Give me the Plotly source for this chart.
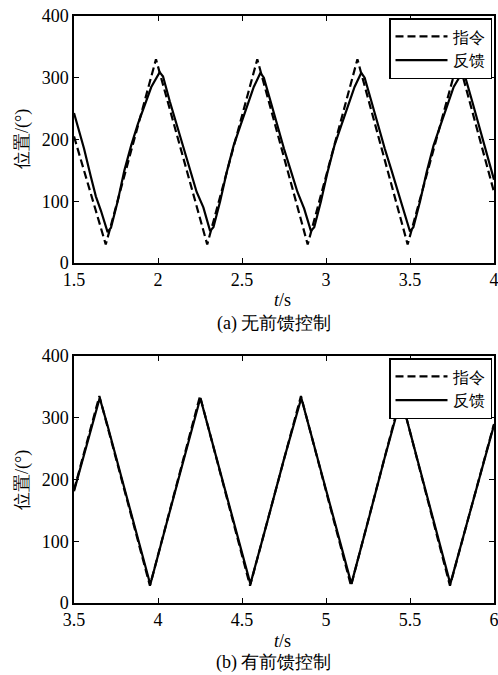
import plotly.graph_objects as go

# ---- data (a) without feedforward ----
cmd_a_t = [1.5, 1.689, 1.988, 2.293, 2.591, 2.891, 3.187, 3.486, 3.787, 4.0]
cmd_a_y = [205, 30, 330, 30, 330, 30, 330, 30, 330, 115]

fb_a_t = [1.50, 1.53, 1.56, 1.60, 1.63, 1.66, 1.70, 1.72, 1.76, 1.80, 1.84, 1.88, 1.92, 1.96, 2.01,
          2.03, 2.07, 2.11, 2.15, 2.19, 2.23, 2.27, 2.31, 2.33, 2.37, 2.41, 2.45, 2.49, 2.53, 2.57, 2.61,
          2.63, 2.67, 2.71, 2.75, 2.79, 2.83, 2.87, 2.91, 2.93, 2.97, 3.01, 3.05, 3.09, 3.13, 3.17, 3.21,
          3.23, 3.27, 3.31, 3.35, 3.39, 3.43, 3.46, 3.50, 3.52, 3.56, 3.60, 3.64, 3.68, 3.72, 3.76, 3.81,
          3.83, 3.87, 3.91, 3.95, 4.00]
fb_a_y = [243, 215, 185, 140, 108, 85, 50, 57, 100, 150, 190, 225, 255, 285, 309,
          302, 262, 225, 185, 152, 115, 90, 52, 58, 100, 148, 190, 222, 255, 285, 308,
          300, 262, 222, 185, 150, 115, 88, 52, 58, 100, 148, 190, 222, 255, 285, 308,
          300, 262, 222, 185, 150, 115, 90, 51, 58, 100, 148, 190, 222, 255, 285, 308,
          300, 262, 222, 185, 135]

# ---- data (b) with feedforward ----
cmd_b_t = [3.5, 3.651, 3.952, 4.25, 4.548, 4.851, 5.149, 5.445, 5.738, 6.0]
cmd_b_y = [183, 335, 28, 335, 28, 335, 28, 335, 28, 290]

fb_b_t = [3.5, 3.58, 3.653, 3.70, 3.80, 3.954, 4.05, 4.15, 4.252, 4.35, 4.45, 4.550, 4.65, 4.75,
          4.853, 4.95, 5.05, 5.151, 5.25, 5.35, 5.447, 5.55, 5.65, 5.740, 5.85, 6.0]
fb_b_y = [181, 262, 332, 287, 184, 30, 128, 230, 332, 233, 130, 31, 131, 233,
          332, 233, 132, 31, 132, 236, 332, 226, 122, 31, 140, 288]

x_ticks_a = [1.5, 2, 2.5, 3, 3.5, 4]
x_ticks_b = [3.5, 4, 4.5, 5, 5.5, 6]
y_ticks = [0, 100, 200, 300, 400]

W, H = 498, 675
FONT = "Liberation Serif"
DASH = "8px,4px"


def px(x):
    return x / W


def py(y):
    return 1 - y / H


fig = go.Figure()
fig.add_trace(go.Scatter(x=cmd_a_t, y=cmd_a_y, mode="lines", name="指令",
                         line=dict(color="black", width=2.2, dash=DASH),
                         xaxis="x", yaxis="y", legend="legend"))
fig.add_trace(go.Scatter(x=fb_a_t, y=fb_a_y, mode="lines", name="反馈",
                         line=dict(color="black", width=2.2),
                         xaxis="x", yaxis="y", legend="legend"))
fig.add_trace(go.Scatter(x=cmd_b_t, y=cmd_b_y, mode="lines", name="指令",
                         line=dict(color="black", width=2.2, dash=DASH),
                         xaxis="x2", yaxis="y2", legend="legend2"))
fig.add_trace(go.Scatter(x=fb_b_t, y=fb_b_y, mode="lines", name="反馈",
                         line=dict(color="black", width=2.2),
                         xaxis="x2", yaxis="y2", legend="legend2"))

xdom = [px(74), px(494)]
ydom_a = [py(263), py(16)]
ydom_b = [py(603), py(356)]

axis_common = dict(showline=True, linecolor="black", linewidth=1.5, mirror="ticks",
                   ticks="inside", ticklen=5, tickwidth=1.2, tickcolor="black",
                   showgrid=False, zeroline=False, automargin=False,
                   ticklabeloverflow="allow",
                   tickfont=dict(family=FONT, size=18, color="black"))

leg_common = dict(xanchor="right", yanchor="top", bgcolor="white", bordercolor="black",
                  borderwidth=1.5, itemwidth=52, tracegroupgap=0,
                  font=dict(family=FONT, size=16, color="black"))

fig.update_layout(
    template="none",
    width=W, height=H, autosize=False,
    margin=dict(l=0, r=0, t=0, b=0, pad=0, autoexpand=False),
    paper_bgcolor="white", plot_bgcolor="white",
    font=dict(family=FONT, color="black"),
    hovermode=False,
    xaxis=dict(domain=xdom, anchor="y", range=[1.5, 4], tickvals=x_ticks_a,
               ticktext=[f"{v:g}" for v in x_ticks_a], **axis_common),
    yaxis=dict(domain=ydom_a, anchor="x", range=[0, 400], tickvals=y_ticks, **axis_common),
    xaxis2=dict(domain=xdom, anchor="y2", range=[3.5, 6], tickvals=x_ticks_b,
                ticktext=[f"{v:g}" for v in x_ticks_b], **axis_common),
    yaxis2=dict(domain=ydom_b, anchor="x2", range=[0, 400], tickvals=y_ticks, **axis_common),
    legend=dict(x=px(492), y=py(18), **leg_common),
    legend2=dict(x=px(492), y=py(358), **leg_common),
)


def ann(text, x, y, size=18, angle=0):
    fig.add_annotation(text=text, x=px(x), y=py(y), xref="paper", yref="paper",
                       showarrow=False, textangle=angle, xanchor="center", yanchor="middle",
                       font=dict(family=FONT, size=size, color="black"))


ann("位置/(°)", 22, 139, size=18, angle=-90)
ann("位置/(°)", 22, 480, size=18, angle=-90)
ann("<i>t</i>/s", 282, 300, size=18)
ann("<i>t</i>/s", 282, 641, size=18)
ann("(a) 无前馈控制", 274, 323, size=18)
ann("(b) 有前馈控制", 274, 662, size=18)

fig.write_html("out.html", config={"displayModeBar": False},
               post_script="document.body.style.margin='0';document.body.style.overflow='hidden';")
